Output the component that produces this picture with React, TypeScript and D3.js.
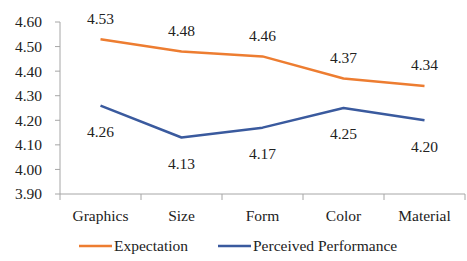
import { useEffect, useRef } from "react";
import * as d3 from "d3";

const categories = ["Graphics", "Size", "Form", "Color", "Material"];
const expectation = [4.53, 4.48, 4.46, 4.37, 4.34];
const perceived = [4.26, 4.13, 4.17, 4.25, 4.2];
const yTicks = [3.9, 4.0, 4.1, 4.2, 4.3, 4.4, 4.5, 4.6];

const W = 467;
const H = 261;

const App = () => {
  const svgRef = useRef<SVGSVGElement>(null);

  useEffect(() => {
    if (!svgRef.current) return;
    const svg = d3.select(svgRef.current);
    svg.selectAll("*").remove();

    const left = 60;
    const right = 465;
    const top = 22;
    const bottom = 194;

    const x = d3.scaleBand().domain(categories).range([left, right]);
    const y = d3.scaleLinear().domain([3.9, 4.6]).range([bottom, top]);

    const label = (
      g: d3.Selection<SVGGElement, unknown, null, undefined>,
      tx: number,
      ty: number,
      txt: string,
      anchor: string
    ) => {
      g.append("text")
        .attr("x", tx)
        .attr("y", ty)
        .attr("text-anchor", anchor)
        .attr("dy", "0.35em")
        .style("font-family", "Liberation Serif")
        .style("font-size", "15.5px")
        .attr("fill", "#222")
        .text(txt);
    };

    const g = svg.append("g");

    // axes
    g.append("line")
      .attr("x1", left).attr("x2", left)
      .attr("y1", top).attr("y2", bottom + 6)
      .attr("stroke", "#a6a6a6");
    g.append("line")
      .attr("x1", left).attr("x2", right)
      .attr("y1", bottom).attr("y2", bottom)
      .attr("stroke", "#a6a6a6");

    yTicks.forEach((t) => {
      g.append("line")
        .attr("x1", left - 5).attr("x2", left)
        .attr("y1", y(t)).attr("y2", y(t))
        .attr("stroke", "#a6a6a6");
      label(g, 42, y(t), t.toFixed(2), "end");
    });

    categories.forEach((c) => {
      const xe = (x(c) ?? 0) + x.bandwidth();
      g.append("line")
        .attr("x1", xe).attr("x2", xe)
        .attr("y1", bottom).attr("y2", bottom + 6)
        .attr("stroke", "#a6a6a6");
      label(g, (x(c) ?? 0) + x.bandwidth() / 2, 216, c, "middle");
    });

    const cx = (i: number) => (x(categories[i]) ?? 0) + x.bandwidth() / 2;
    const line = d3
      .line<number>()
      .x((_, i) => cx(i))
      .y((d) => y(d));

    const series = [
      { values: expectation, color: "#ed7d31", dy: -21 },
      { values: perceived, color: "#3a5a9e", dy: 26 },
    ];

    series.forEach((s) => {
      g.append("path")
        .attr("d", line(s.values))
        .attr("fill", "none")
        .attr("stroke", s.color)
        .attr("stroke-width", 2.5)
        .attr("stroke-linejoin", "round");
      s.values.forEach((v, i) => {
        label(g, cx(i), y(v) + s.dy, v.toFixed(2), "middle");
      });
    });

    // legend
    const legend = [
      { name: "Expectation", color: "#ed7d31", x: 79 },
      { name: "Perceived Performance", color: "#3a5a9e", x: 218 },
    ];
    legend.forEach((l) => {
      g.append("line")
        .attr("x1", l.x).attr("x2", l.x + 33)
        .attr("y1", 246).attr("y2", 246)
        .attr("stroke", l.color)
        .attr("stroke-width", 2.5);
      label(g, l.x + 35, 246, l.name, "start");
    });
  }, []);

  return (
    <div style={{ position: "absolute", left: 0, top: 0 }}>
      <svg ref={svgRef} width={W} height={H} style={{ display: "block", background: "#fff" }}></svg>
    </div>
  );
};

export default App;
